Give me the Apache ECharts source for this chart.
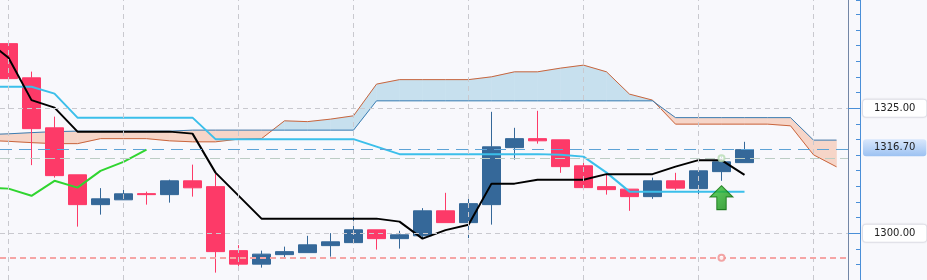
<!DOCTYPE html>
<html><head><meta charset="utf-8">
<script src="https://cdn.jsdelivr.net/npm/echarts@6/dist/echarts.min.js"></script>
<style>html,body{margin:0;padding:0;background:#f8f8fc;}#chart{width:927px;height:280px;}</style>
</head><body><div id="chart"></div>
<script>
// ---- data ----
const periods = [-1,0,1,2,3,4,5,6,7,8,9,10,11,12,13,14,15,16,17,18,19,20,21,22,23,24,25,26,27,28,29,30,31,32,33,34,35,36];
// [open, close, low, high]
const candles = [
  null,
  [1337.9,1330.9,1330.9,1338.5],
  [1331.06,1320.9,1313.6,1332.3],
  [1321.06,1311.5,1311.1,1323.3],
  [1311.66,1305.7,1301.3,1311.66],
  [1305.7,1306.86,1303.7,1309.0],
  [1306.66,1307.86,1306.66,1309.46],
  [1307.9,1307.7,1305.7,1308.3],
  [1307.7,1310.46,1306.1,1310.7],
  [1310.46,1309.06,1307.3,1313.7],
  [1309.3,1296.3,1292.1,1311.9],
  [1296.5,1293.8,1292.6,1297.6],
  [1293.8,1295.8,1293.1,1296.5],
  [1295.7,1296.3,1295.06,1297.3],
  [1296.1,1297.66,1296.1,1299.46],
  [1297.5,1298.26,1295.3,1300.0],
  [1298.1,1300.66,1297.9,1303.7],
  [1300.66,1298.9,1296.7,1300.66],
  [1298.9,1299.66,1296.9,1300.46],
  [1299.46,1304.46,1299.0,1305.0],
  [1304.46,1302.1,1302.1,1308.06],
  [1302.1,1305.9,1299.0,1307.5],
  [1305.7,1317.26,1301.7,1324.26],
  [1317.1,1318.9,1314.7,1321.06],
  [1318.9,1318.46,1317.9,1324.46],
  [1318.66,1313.3,1312.06,1318.66],
  [1313.46,1309.1,1308.6,1315.1],
  [1309.3,1308.7,1307.7,1311.7],
  [1308.8,1307.3,1304.46,1308.8],
  [1307.3,1310.46,1306.86,1311.1],
  [1310.46,1309.0,1308.6,1312.06],
  [1308.9,1312.46,1307.3,1312.8],
  [1312.3,1314.26,1310.46,1315.4],
  [1314.1,1316.7,1314.1,1318.26],
  null,null,null,null
];
const tenkan = [1338.8,1335.06,1326.6,1325.1,1320.3,1320.3,1320.3,1320.3,1320.3,1319.9,1312.1,1307.5,1302.9,1302.9,1302.9,1302.9,1302.9,1302.9,1302.3,1298.9,1300.6,1301.66,1309.9,1309.9,1310.66,1310.66,1310.66,1311.8,1311.8,1311.8,1313.3,1314.6,1314.6,1311.66,null,null,null,null];
const kijun = [1329.26,1329.26,1329.26,1327.9,1323.1,1323.1,1323.1,1323.1,1323.1,1323.1,1318.8,1318.8,1318.8,1318.8,1318.8,1318.8,1318.8,1317.3,1315.8,1315.8,1315.8,1315.8,1315.8,1315.8,1315.8,1315.66,1315.3,1312.1,1308.3,1308.3,1308.3,1308.3,1308.3,1308.3,null,null,null,null];
const chikou = [1309.1,1308.9,1307.46,1310.46,1309.1,1312.46,1314.26,1316.7,null,null,null,null,null,null,null,null,null,null,null,null,null,null,null,null,null,null,null,null,null,null,null,null,null,null,null,null,null,null];
const spanA = [1318.56,1318.36,1318.1,1317.9,1317.9,1318.9,1318.9,1318.9,1318.46,1318.26,1318.26,1318.8,1318.9,1322.46,1322.3,1322.8,1323.46,1329.8,1330.7,1330.7,1330.7,1330.7,1331.26,1332.26,1332.26,1333.0,1333.6,1332.26,1327.8,1326.6,1321.8,1321.8,1321.8,1321.8,1321.8,1321.46,1315.66,1313.26];
const spanB = [1319.7,1319.86,1320.1,1320.3,1320.4,1320.4,1320.4,1320.4,1320.4,1320.6,1320.6,1320.6,1320.6,1320.6,1320.6,1320.6,1320.6,1326.46,1326.46,1326.46,1326.46,1326.46,1326.46,1326.46,1326.46,1326.46,1326.46,1326.46,1326.46,1326.46,1323.1,1323.1,1323.1,1323.1,1323.1,1323.1,1318.6,1318.6];
const gridColumns = [0,5,10,15,20,25,30,35];
const gridPrices = [1325, 1300];
const gridPriceLabels = ['1325.00', '1300.00'];
const lastPrice = 1316.7;
const lastPriceLabel = '1316.70';
const orderLinePrice = 1315.0;
const stopLinePrice = 1295.06;
const orderMarks = [[31, 1315.0]];
const stopMarks = [[31, 1295.06]];
const buySignals = [[31, 1307.1]];

// ---- chart ----
const chart = echarts.init(document.getElementById('chart'), null, {renderer: 'canvas'});
const UP_FILL = '#c7e0ee';
const DOWN_FILL = '#f6d5c8';

function pairs(arr) {
  const out = [];
  arr.forEach((v, k) => { if (v != null) out.push([periods[k], v]); });
  return out;
}
const candleData = [];
candles.forEach((c, k) => { if (c) candleData.push([periods[k]].concat(c)); });

function renderCloud(params, api) {
  const k = params.dataIndex;
  if (k >= spanA.length - 1) return null;
  const a0 = spanA[k], b0 = spanB[k], a1 = spanA[k + 1], b1 = spanB[k + 1];
  if (a0 == null || b0 == null || a1 == null || b1 == null) return null;
  const x0 = periods[k], x1 = periods[k + 1];
  const pa0 = api.coord([x0, a0]), pb0 = api.coord([x0, b0]);
  const pa1 = api.coord([x1, a1]), pb1 = api.coord([x1, b1]);
  const d0 = a0 - b0, d1 = a1 - b1;
  const col = d => d >= 0 ? UP_FILL : DOWN_FILL;
  const poly = (pts, c) => ({type: 'polygon', shape: {points: pts}, style: {fill: c, stroke: c, lineWidth: 0.6}});
  let children;
  if (d0 * d1 < 0) {
    const t = d0 / (d0 - d1);
    const px = [pa0[0] + t * (pa1[0] - pa0[0]), pa0[1] + t * (pa1[1] - pa0[1])];
    children = [poly([pa0, px, pb0], col(d0)), poly([px, pa1, pb1], col(d1))];
  } else {
    children = [poly([pa0, pa1, pb1, pb0], col(d0 + d1))];
  }
  return {type: 'group', children: children};
}

const labelFont = {fontFamily: 'DejaVu Sans', fontSize: 10, color: '#222'};
const gridLineData = gridColumns.map(c => ({xAxis: c, label: {show: false}}))
  .concat(gridPrices.map((p, i) => ({
    yAxis: p,
    label: Object.assign({
      show: true, position: 'end', distance: 15, formatter: gridPriceLabels[i],
      backgroundColor: '#ffffff', borderColor: '#e4e4ec', borderWidth: 1, borderRadius: 3,
      padding: [3, 11, 2, 11], lineHeight: 12,
      shadowColor: 'rgba(0,0,0,0.08)', shadowBlur: 2
    }, labelFont)
  })));

const X_MIN = -8.5 / 23;
const X_MAX = X_MIN + 848 / 23;
const Y_MIN = 1290.625, Y_MAX = 1346.625;

const option = {
  animation: false,
  backgroundColor: '#f8f8fc',
  grid: {left: 0, right: 79, top: 0, bottom: 0, containLabel: false},
  xAxis: {
    type: 'value', min: X_MIN, max: X_MAX,
    axisLine: {show: false, onZero: false}, axisTick: {show: false}, axisLabel: {show: false}, splitLine: {show: false}
  },
  yAxis: [
    {type: 'value', position: 'right', min: Y_MIN, max: Y_MAX,
     axisLine: {show: true, onZero: false, lineStyle: {color: '#7386a6', width: 1}},
     axisTick: {show: false}, axisLabel: {show: false}, splitLine: {show: false}},
    {type: 'value', position: 'right', offset: 12, min: Y_MIN, max: Y_MAX, interval: 3.125,
     axisLine: {show: true, onZero: false, lineStyle: {color: '#4a8fd8', width: 1}},
     axisTick: {show: true, inside: true, length: 4, lineStyle: {color: '#4a8fd8'}},
     axisLabel: {show: false}, splitLine: {show: false}},
    {type: 'value', position: 'right', offset: 12, min: Y_MIN, max: Y_MAX,
     axisLine: {show: false, onZero: false},
     axisTick: {show: true, inside: true, length: 12, customValues: gridPrices, lineStyle: {color: '#4a8fd8'}},
     axisLabel: {show: false}, splitLine: {show: false}}
  ],
  series: [
    {
      name: 'grid', type: 'line', data: [], z: 0, silent: true, symbol: 'none',
      markLine: {
        silent: true, symbol: ['none', 'none'], animation: false,
        lineStyle: {color: '#c9c9cf', type: [5, 4], width: 1},
        emphasis: {disabled: true},
        data: gridLineData
      }
    },
    {
      name: 'cloud', type: 'custom', z: 1, silent: true, clip: true,
      renderItem: renderCloud,
      encode: {x: 0, y: [1, 2]},
      data: spanA.map((a, k) => [periods[k], a, spanB[k]])
    },
    {name: 'Senkou A', type: 'line', data: pairs(spanA), z: 2, symbol: 'none', silent: true,
     lineStyle: {color: '#c9653d', width: 1}},
    {name: 'Senkou B', type: 'line', data: pairs(spanB), z: 2, symbol: 'none', silent: true,
     lineStyle: {color: '#3b7db3', width: 1}},
    {
      name: 'price', type: 'candlestick', data: candleData, z: 3, barWidth: 19,
      encode: {x: 0, y: [1, 2, 3, 4]},
      itemStyle: {color: '#356899', color0: '#fd3a68', borderColor: '#356899', borderColor0: '#fd3a68', borderWidth: 1}
    },
    {name: 'Kijun', type: 'line', data: pairs(kijun), z: 4, symbol: 'none', silent: true,
     lineStyle: {color: '#3bbfea', width: 2}},
    {name: 'Tenkan', type: 'line', data: pairs(tenkan), z: 4, symbol: 'none', silent: true,
     lineStyle: {color: '#000000', width: 2}},
    {name: 'Chikou', type: 'line', data: pairs(chikou), z: 4, symbol: 'none', silent: true,
     lineStyle: {color: '#30d530', width: 2}},
    {
      name: 'levels', type: 'line', data: [], z: 5, silent: true, symbol: 'none',
      markLine: {
        silent: true, symbol: ['none', 'none'], animation: false, emphasis: {disabled: true},
        data: [
          {yAxis: lastPrice, lineStyle: {color: '#5ea3d6', type: [12, 7], width: 1},
           label: Object.assign({
             show: true, position: 'end', distance: 15, formatter: lastPriceLabel,
             backgroundColor: {type: 'linear', x: 0, y: 0, x2: 0, y2: 1,
               colorStops: [{offset: 0, color: '#d9e8fc'}, {offset: 1, color: '#9dc2f2'}]},
             borderRadius: 3, padding: [3, 11, 2, 11], lineHeight: 12, offset: [0, -2]
           }, labelFont)},
          {yAxis: orderLinePrice, lineStyle: {color: '#bccdc4', type: [10, 5], width: 1}, label: {show: false}},
          {yAxis: stopLinePrice, lineStyle: {color: '#f6a5a5', type: [6, 4], width: 2}, label: {show: false}}
        ]
      }
    },
    {name: 'order', type: 'scatter', data: orderMarks, z: 6, symbol: 'emptyCircle', symbolSize: 6,
     itemStyle: {color: '#b7dcb3', borderWidth: 1}},
    {name: 'stop', type: 'scatter', data: stopMarks, z: 6, symbol: 'emptyCircle', symbolSize: 6,
     itemStyle: {color: '#f08f8f', borderWidth: 1}},
    {name: 'signal', type: 'scatter', data: buySignals, z: 7,
     symbol: 'path://M11,0 L22,11 L15.5,11 L15.5,23 L6.5,23 L6.5,11 L0,11 Z', symbolSize: [23, 24],
     itemStyle: {color: {type: 'linear', x: 0, y: 0, x2: 1, y2: 1,
       colorStops: [{offset: 0, color: '#3fd03f'}, {offset: 1, color: '#0a7f0a'}]},
       borderColor: '#0b6d0b', borderWidth: 1}}
  ]
};
chart.setOption(option);
</script>
</body></html>
